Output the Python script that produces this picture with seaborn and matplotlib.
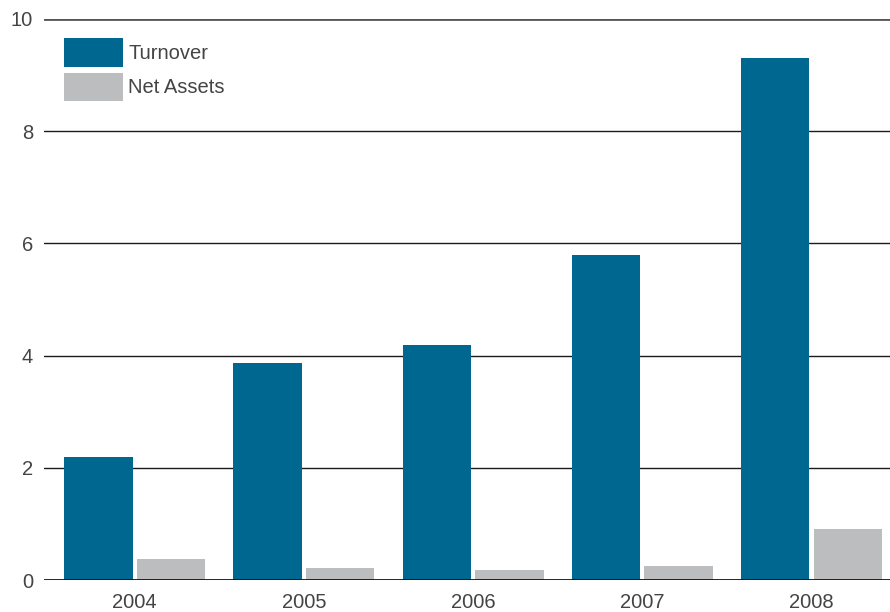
import matplotlib
matplotlib.use("Agg")
import matplotlib.pyplot as plt
import seaborn as sns
import pandas as pd

years = ["2004", "2005", "2006", "2007", "2008"]
turnover = [2.19, 3.87, 4.19, 5.79, 9.30]
net_assets = [0.37, 0.21, 0.18, 0.25, 0.91]
series_names = ["Turnover", "Net Assets"]
colors = ["#006790", "#BCBDBF"]

df = pd.DataFrame({
    "year": years * 2,
    "series": [series_names[0]] * len(years) + [series_names[1]] * len(years),
    "value": turnover + net_assets,
})

sns.set_theme(style="white")
plt.rcParams["font.family"] = ["Liberation Sans", "DejaVu Sans"]

fig = plt.figure(figsize=(8.9, 6.12), dpi=100)
ax = fig.add_axes([44 / 890, 32 / 612, 846 / 890, 561 / 612])

sns.barplot(data=df, x="year", y="value", hue="series", palette=colors,
            width=0.86, gap=0.06, saturation=1, ax=ax, errorbar=None,
            linewidth=0, edgecolor="none")

ax.set_ylim(0, 10)
ax.set_xlim(-0.536, 4.464)
ax.set_yticks([0, 2, 4, 6, 8, 10])
ax.set_xlabel("")
ax.set_ylabel("")
for s in ax.spines.values():
    s.set_visible(False)
ax.set_axisbelow(True)
for yv in [2, 4, 6, 8]:
    ax.axhline(yv, color="#1a1a1a", lw=1.0, zorder=0)
ax.axhline(10, color="#555555", lw=2.0, zorder=0)
ax.axhline(0, color="#111111", lw=2.0, zorder=5)
ax.tick_params(axis="both", length=0, labelsize=14.5, labelcolor="#444444")
ax.tick_params(axis="y", pad=8)
ax.tick_params(axis="x", pad=9)

ax.legend(loc="upper left", bbox_to_anchor=(0.024, 0.966), frameon=False,
          borderpad=0, borderaxespad=0, fontsize=14.5, handlelength=2.9,
          handleheight=1.8, labelspacing=0.3, handletextpad=0.28,
          labelcolor="#444444")

fig.savefig("out.png", dpi=100)
